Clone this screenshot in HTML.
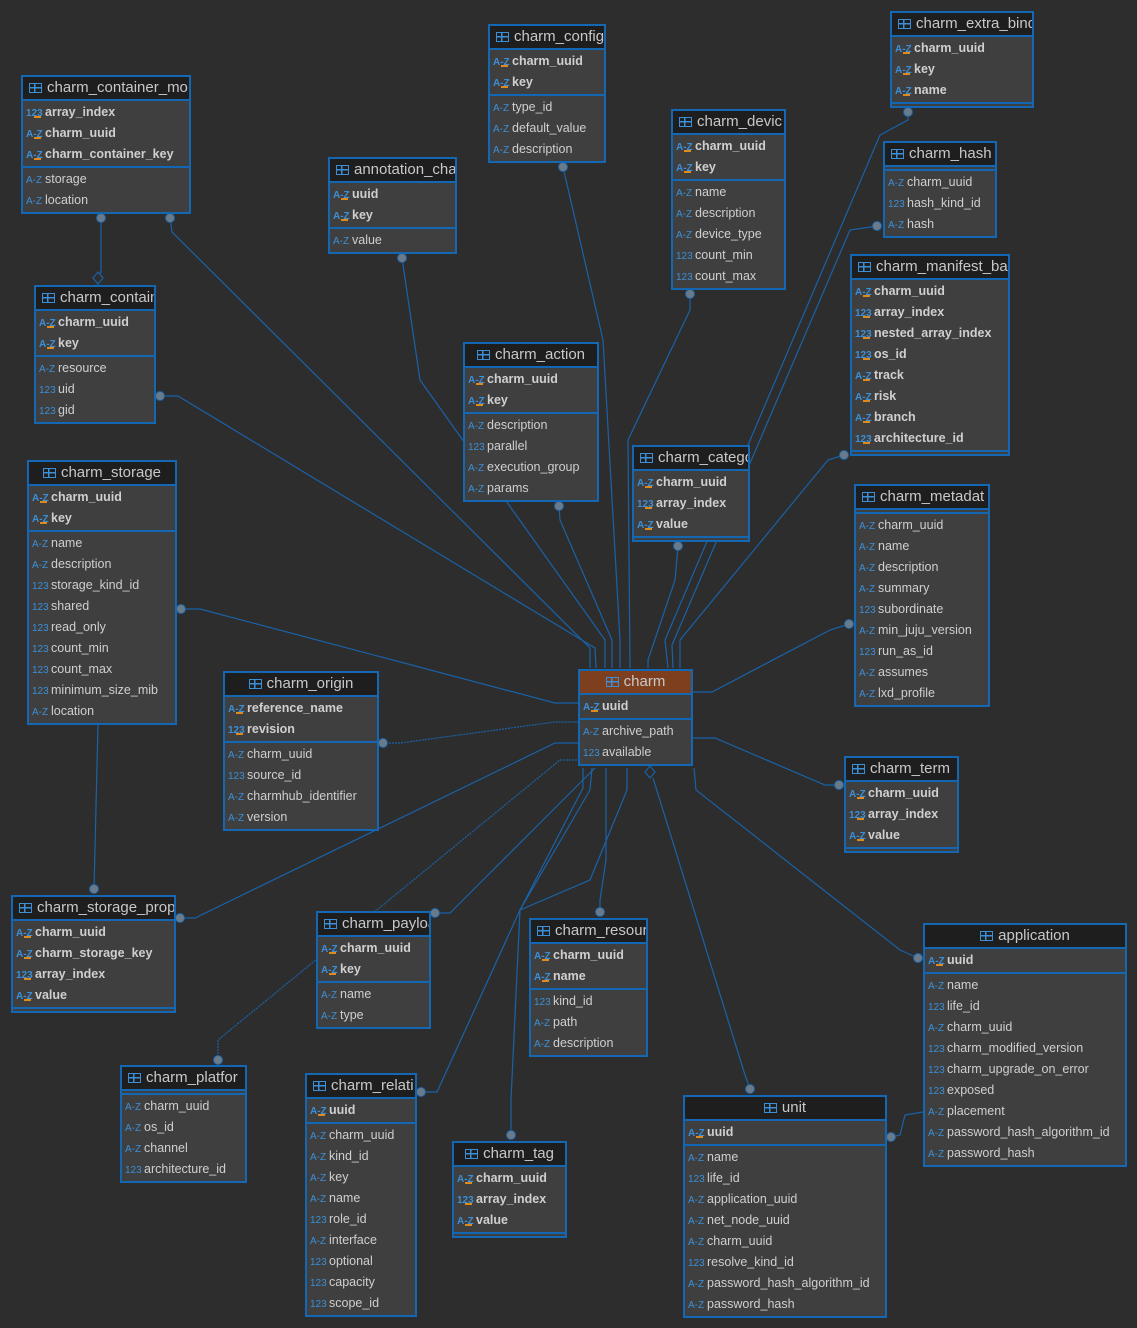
<!DOCTYPE html>
<html><head><meta charset="utf-8"><style>
body{margin:0;width:1137px;height:1328px;background:#2d2d2d;overflow:hidden;position:relative;font-family:"Liberation Sans","DejaVu Sans",sans-serif;}
svg{position:absolute;left:0;top:0}
.t{position:absolute;border:2px solid #1467b3;background:#3f3f3f;box-sizing:border-box;color:#cfcfcf;font-size:12.5px}
.h{height:22px;background:#1e1e1e;border-bottom:2px solid #1467b3;color:#c8c8c8;font-size:15px;line-height:22px;white-space:nowrap;overflow:hidden;padding-left:6px}
.h b{display:inline-block;width:13px;height:10px;border:1.5px solid #3b8fd8;margin-right:5px;vertical-align:-1px;box-sizing:border-box;background:linear-gradient(#3b8fd8,#3b8fd8) 0 3px/100% 1.5px no-repeat,linear-gradient(#3b8fd8,#3b8fd8) 4px 0/1.5px 100% no-repeat}
.c{text-align:center;padding-left:0}
.s{padding:1px 0}
.s+.s{border-top:2px solid #1467b3}
.r{height:21px;line-height:21px;white-space:nowrap;overflow:hidden;padding-left:3px}
.i{display:inline-block;width:19px;font-size:10px;color:#3b8fd8;position:relative}
.k{font-weight:bold}
.k .i:after{content:"";position:absolute;left:8px;top:13px;width:7px;height:2px;background:#e08a1a}
</style></head><body>
<svg width="1137" height="1328" viewBox="0 0 1137 1328">
<g fill="none" stroke="#1a62a8" stroke-width="1.2">
<polyline points="101,218 101,272 98,278"/>
<polyline points="98,285 98,278"/>
<polyline points="170,218 172,232 590,648 590,668"/>
<polyline points="563,167 603,340 620,640 620,668"/>
<polyline points="402,258 420,380 605,640 605,668"/>
<polyline points="690,294 690,310 628,440 630,668"/>
<polyline points="908,112 908,120 880,135 665,640 668,668"/>
<polyline points="877,226 850,230 672,645 673,668"/>
<polyline points="844,455 828,460 680,640 680,668"/>
<polyline points="160,396 178,396 595,648 596,668"/>
<polyline points="559,506 560,520 612,640 612,668"/>
<polyline points="678,546 675,580 648,660 648,668"/>
<polyline points="849,624 830,630 712,692 692,692"/>
<polyline points="181,609 200,609 555,703 578,703"/>
<polyline points="383,743 400,743 555,722 578,722" stroke-dasharray="2,1"/>
<polyline points="839,785 825,785 715,738 692,738"/>
<polyline points="94,889 98,724"/>
<polyline points="180,918 195,918 555,743 578,743"/>
<polyline points="435,913 450,913 595,768"/>
<polyline points="600,912 600,900 606,860 606,768"/>
<polyline points="918,958 900,950 696,790 694,768"/>
<polyline points="218,1060 218,1040 560,760 578,760" stroke-dasharray="2,1"/>
<polyline points="421,1092 437,1092 520,910 583,788 583,768"/>
<polyline points="511,1135 511,1100 520,910 590,790 592,768"/>
<polyline points="750,1089 745,1075 653,778"/>
<polyline points="891,1137 900,1135 905,1115 923,1112"/>
<polyline points="627,768 627,790 590,880 520,910"/>
</g>
<g fill="#6a7a88" stroke="#1a62a8" stroke-width="1">
<circle cx="101" cy="218" r="4.5"/><circle cx="170" cy="218" r="4.5"/><circle cx="563" cy="167" r="4.5"/>
<circle cx="402" cy="258" r="4.5"/><circle cx="690" cy="294" r="4.5"/><circle cx="908" cy="112" r="4.5"/>
<circle cx="877" cy="226" r="4.5"/><circle cx="844" cy="455" r="4.5"/><circle cx="160" cy="396" r="4.5"/>
<circle cx="559" cy="506" r="4.5"/><circle cx="678" cy="546" r="4.5"/><circle cx="849" cy="624" r="4.5"/>
<circle cx="181" cy="609" r="4.5"/><circle cx="383" cy="743" r="4.5"/><circle cx="839" cy="785" r="4.5"/>
<circle cx="94" cy="889" r="4.5"/><circle cx="180" cy="918" r="4.5"/><circle cx="435" cy="913" r="4.5"/>
<circle cx="600" cy="912" r="4.5"/><circle cx="918" cy="958" r="4.5"/><circle cx="218" cy="1060" r="4.5"/>
<circle cx="421" cy="1092" r="4.5"/><circle cx="511" cy="1135" r="4.5"/><circle cx="750" cy="1089" r="4.5"/>
<circle cx="891" cy="1137" r="4.5"/>
</g>
<g fill="#2d2d2d" stroke="#1a62a8" stroke-width="1.2">
<polygon points="98,272 103,278 98,284 93,278"/>
<polygon points="650,766 655,772 650,778 645,772"/>
</g>
</svg>

<div class="t" style="left:21px;top:75px;width:170px"><div class="h"><b></b>charm_container_mo</div>
<div class="s"><div class="r k"><span class="i">123</span>array_index</div><div class="r k"><span class="i">A-Z</span>charm_uuid</div><div class="r k"><span class="i">A-Z</span>charm_container_key</div></div>
<div class="s"><div class="r"><span class="i">A-Z</span>storage</div><div class="r"><span class="i">A-Z</span>location</div></div></div>

<div class="t" style="left:488px;top:24px;width:118px"><div class="h"><b></b>charm_config</div>
<div class="s"><div class="r k"><span class="i">A-Z</span>charm_uuid</div><div class="r k"><span class="i">A-Z</span>key</div></div>
<div class="s"><div class="r"><span class="i">A-Z</span>type_id</div><div class="r"><span class="i">A-Z</span>default_value</div><div class="r"><span class="i">A-Z</span>description</div></div></div>

<div class="t" style="left:890px;top:11px;width:144px"><div class="h"><b></b>charm_extra_bind</div>
<div class="s"><div class="r k"><span class="i">A-Z</span>charm_uuid</div><div class="r k"><span class="i">A-Z</span>key</div><div class="r k"><span class="i">A-Z</span>name</div></div>
<div class="s" style="height:2px;padding:0"></div></div>

<div class="t" style="left:328px;top:157px;width:129px"><div class="h"><b></b>annotation_cha</div>
<div class="s"><div class="r k"><span class="i">A-Z</span>uuid</div><div class="r k"><span class="i">A-Z</span>key</div></div>
<div class="s"><div class="r"><span class="i">A-Z</span>value</div></div></div>

<div class="t" style="left:671px;top:109px;width:115px"><div class="h"><b></b>charm_devic</div>
<div class="s"><div class="r k"><span class="i">A-Z</span>charm_uuid</div><div class="r k"><span class="i">A-Z</span>key</div></div>
<div class="s"><div class="r"><span class="i">A-Z</span>name</div><div class="r"><span class="i">A-Z</span>description</div><div class="r"><span class="i">A-Z</span>device_type</div><div class="r"><span class="i">123</span>count_min</div><div class="r"><span class="i">123</span>count_max</div></div></div>

<div class="t" style="left:883px;top:141px;width:114px"><div class="h"><b></b>charm_hash</div>
<div class="s" style="height:2px;padding:0"></div>
<div class="s"><div class="r"><span class="i">A-Z</span>charm_uuid</div><div class="r"><span class="i">123</span>hash_kind_id</div><div class="r"><span class="i">A-Z</span>hash</div></div></div>

<div class="t" style="left:34px;top:285px;width:122px"><div class="h"><b></b>charm_contain</div>
<div class="s"><div class="r k"><span class="i">A-Z</span>charm_uuid</div><div class="r k"><span class="i">A-Z</span>key</div></div>
<div class="s"><div class="r"><span class="i">A-Z</span>resource</div><div class="r"><span class="i">123</span>uid</div><div class="r"><span class="i">123</span>gid</div></div></div>

<div class="t" style="left:463px;top:342px;width:136px"><div class="h c"><b></b>charm_action</div>
<div class="s"><div class="r k"><span class="i">A-Z</span>charm_uuid</div><div class="r k"><span class="i">A-Z</span>key</div></div>
<div class="s"><div class="r"><span class="i">A-Z</span>description</div><div class="r"><span class="i">123</span>parallel</div><div class="r"><span class="i">A-Z</span>execution_group</div><div class="r"><span class="i">A-Z</span>params</div></div></div>

<div class="t" style="left:850px;top:254px;width:160px"><div class="h"><b></b>charm_manifest_ba</div>
<div class="s"><div class="r k"><span class="i">A-Z</span>charm_uuid</div><div class="r k"><span class="i">123</span>array_index</div><div class="r k"><span class="i">123</span>nested_array_index</div><div class="r k"><span class="i">123</span>os_id</div><div class="r k"><span class="i">A-Z</span>track</div><div class="r k"><span class="i">A-Z</span>risk</div><div class="r k"><span class="i">A-Z</span>branch</div><div class="r k"><span class="i">123</span>architecture_id</div></div>
<div class="s" style="height:2px;padding:0"></div></div>

<div class="t" style="left:27px;top:460px;width:150px"><div class="h c"><b></b>charm_storage</div>
<div class="s"><div class="r k"><span class="i">A-Z</span>charm_uuid</div><div class="r k"><span class="i">A-Z</span>key</div></div>
<div class="s"><div class="r"><span class="i">A-Z</span>name</div><div class="r"><span class="i">A-Z</span>description</div><div class="r"><span class="i">123</span>storage_kind_id</div><div class="r"><span class="i">123</span>shared</div><div class="r"><span class="i">123</span>read_only</div><div class="r"><span class="i">123</span>count_min</div><div class="r"><span class="i">123</span>count_max</div><div class="r"><span class="i">123</span>minimum_size_mib</div><div class="r"><span class="i">A-Z</span>location</div></div></div>

<div class="t" style="left:632px;top:445px;width:118px"><div class="h"><b></b>charm_catego</div>
<div class="s"><div class="r k"><span class="i">A-Z</span>charm_uuid</div><div class="r k"><span class="i">123</span>array_index</div><div class="r k"><span class="i">A-Z</span>value</div></div>
<div class="s" style="height:2px;padding:0"></div></div>

<div class="t" style="left:854px;top:484px;width:136px"><div class="h"><b></b>charm_metadat</div>
<div class="s" style="height:2px;padding:0"></div>
<div class="s"><div class="r"><span class="i">A-Z</span>charm_uuid</div><div class="r"><span class="i">A-Z</span>name</div><div class="r"><span class="i">A-Z</span>description</div><div class="r"><span class="i">A-Z</span>summary</div><div class="r"><span class="i">123</span>subordinate</div><div class="r"><span class="i">A-Z</span>min_juju_version</div><div class="r"><span class="i">123</span>run_as_id</div><div class="r"><span class="i">A-Z</span>assumes</div><div class="r"><span class="i">A-Z</span>lxd_profile</div></div></div>

<div class="t" style="left:578px;top:669px;width:115px"><div class="h c" style="background:#7e3f1f"><b></b>charm</div>
<div class="s"><div class="r k"><span class="i">A-Z</span>uuid</div></div>
<div class="s"><div class="r"><span class="i">A-Z</span>archive_path</div><div class="r"><span class="i">123</span>available</div></div></div>

<div class="t" style="left:223px;top:671px;width:156px"><div class="h c"><b></b>charm_origin</div>
<div class="s"><div class="r k"><span class="i">A-Z</span>reference_name</div><div class="r k"><span class="i">123</span>revision</div></div>
<div class="s"><div class="r"><span class="i">A-Z</span>charm_uuid</div><div class="r"><span class="i">123</span>source_id</div><div class="r"><span class="i">A-Z</span>charmhub_identifier</div><div class="r"><span class="i">A-Z</span>version</div></div></div>

<div class="t" style="left:844px;top:756px;width:115px"><div class="h"><b></b>charm_term</div>
<div class="s"><div class="r k"><span class="i">A-Z</span>charm_uuid</div><div class="r k"><span class="i">123</span>array_index</div><div class="r k"><span class="i">A-Z</span>value</div></div>
<div class="s" style="height:2px;padding:0"></div></div>

<div class="t" style="left:11px;top:895px;width:165px"><div class="h"><b></b>charm_storage_prop</div>
<div class="s"><div class="r k"><span class="i">A-Z</span>charm_uuid</div><div class="r k"><span class="i">A-Z</span>charm_storage_key</div><div class="r k"><span class="i">123</span>array_index</div><div class="r k"><span class="i">A-Z</span>value</div></div>
<div class="s" style="height:2px;padding:0"></div></div>

<div class="t" style="left:316px;top:911px;width:115px"><div class="h"><b></b>charm_payloa</div>
<div class="s"><div class="r k"><span class="i">A-Z</span>charm_uuid</div><div class="r k"><span class="i">A-Z</span>key</div></div>
<div class="s"><div class="r"><span class="i">A-Z</span>name</div><div class="r"><span class="i">A-Z</span>type</div></div></div>

<div class="t" style="left:529px;top:918px;width:119px"><div class="h"><b></b>charm_resourc</div>
<div class="s"><div class="r k"><span class="i">A-Z</span>charm_uuid</div><div class="r k"><span class="i">A-Z</span>name</div></div>
<div class="s"><div class="r"><span class="i">123</span>kind_id</div><div class="r"><span class="i">A-Z</span>path</div><div class="r"><span class="i">A-Z</span>description</div></div></div>

<div class="t" style="left:923px;top:923px;width:204px"><div class="h c"><b></b>application</div>
<div class="s"><div class="r k"><span class="i">A-Z</span>uuid</div></div>
<div class="s"><div class="r"><span class="i">A-Z</span>name</div><div class="r"><span class="i">123</span>life_id</div><div class="r"><span class="i">A-Z</span>charm_uuid</div><div class="r"><span class="i">123</span>charm_modified_version</div><div class="r"><span class="i">123</span>charm_upgrade_on_error</div><div class="r"><span class="i">123</span>exposed</div><div class="r"><span class="i">A-Z</span>placement</div><div class="r"><span class="i">A-Z</span>password_hash_algorithm_id</div><div class="r"><span class="i">A-Z</span>password_hash</div></div></div>

<div class="t" style="left:120px;top:1065px;width:127px"><div class="h"><b></b>charm_platfor</div>
<div class="s" style="height:2px;padding:0"></div>
<div class="s"><div class="r"><span class="i">A-Z</span>charm_uuid</div><div class="r"><span class="i">A-Z</span>os_id</div><div class="r"><span class="i">A-Z</span>channel</div><div class="r"><span class="i">123</span>architecture_id</div></div></div>

<div class="t" style="left:305px;top:1073px;width:112px"><div class="h"><b></b>charm_relati</div>
<div class="s"><div class="r k"><span class="i">A-Z</span>uuid</div></div>
<div class="s"><div class="r"><span class="i">A-Z</span>charm_uuid</div><div class="r"><span class="i">A-Z</span>kind_id</div><div class="r"><span class="i">A-Z</span>key</div><div class="r"><span class="i">A-Z</span>name</div><div class="r"><span class="i">123</span>role_id</div><div class="r"><span class="i">A-Z</span>interface</div><div class="r"><span class="i">123</span>optional</div><div class="r"><span class="i">123</span>capacity</div><div class="r"><span class="i">123</span>scope_id</div></div></div>

<div class="t" style="left:452px;top:1141px;width:115px"><div class="h c"><b></b>charm_tag</div>
<div class="s"><div class="r k"><span class="i">A-Z</span>charm_uuid</div><div class="r k"><span class="i">123</span>array_index</div><div class="r k"><span class="i">A-Z</span>value</div></div>
<div class="s" style="height:2px;padding:0"></div></div>

<div class="t" style="left:683px;top:1095px;width:204px"><div class="h c"><b></b>unit</div>
<div class="s"><div class="r k"><span class="i">A-Z</span>uuid</div></div>
<div class="s"><div class="r"><span class="i">A-Z</span>name</div><div class="r"><span class="i">123</span>life_id</div><div class="r"><span class="i">A-Z</span>application_uuid</div><div class="r"><span class="i">A-Z</span>net_node_uuid</div><div class="r"><span class="i">A-Z</span>charm_uuid</div><div class="r"><span class="i">123</span>resolve_kind_id</div><div class="r"><span class="i">A-Z</span>password_hash_algorithm_id</div><div class="r"><span class="i">A-Z</span>password_hash</div></div></div>
</body></html>
